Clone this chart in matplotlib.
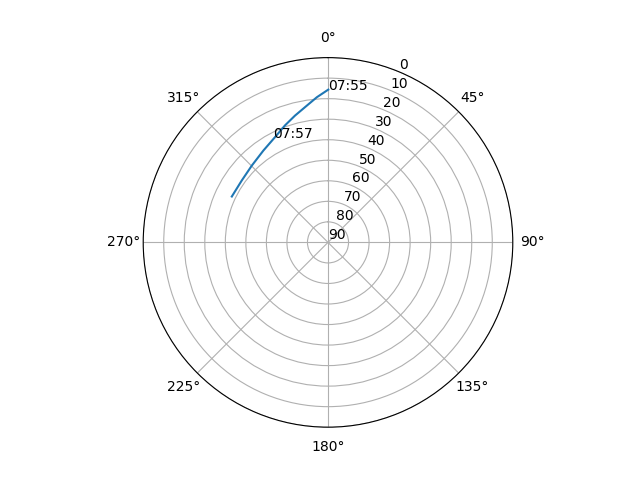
import numpy as np
import matplotlib
matplotlib.use('Agg')
import matplotlib.pyplot as plt

# azimuth (deg) and elevation (deg) of the pass
azimuth = [0.1, 355.6, 351.2, 345.4, 339.8, 333.3, 324.9, 315.3, 305.7, 295.5]
elevation = [15.6, 19.1, 22.6, 26.2, 29.3, 32.6, 35.3, 37.3, 38.3, 38.1]

# time labels along the track
label_text = ['07:55', '07:57']
label_az = [0.1, 332.2]
label_el = [15.6, 32.6]

fig = plt.figure(figsize=(6.4, 4.8), dpi=100)
ax = fig.add_subplot(111, projection='polar')
ax.set_theta_zero_location('N')
ax.set_theta_direction(-1)
ax.set_ylim(90, 0)
ax.set_yticks(range(0, 91, 10))

ax.plot(np.radians(azimuth), elevation)
for txt, a, e in zip(label_text, label_az, label_el):
	ax.text(np.radians(a), e, txt)

fig.savefig('out.png')
